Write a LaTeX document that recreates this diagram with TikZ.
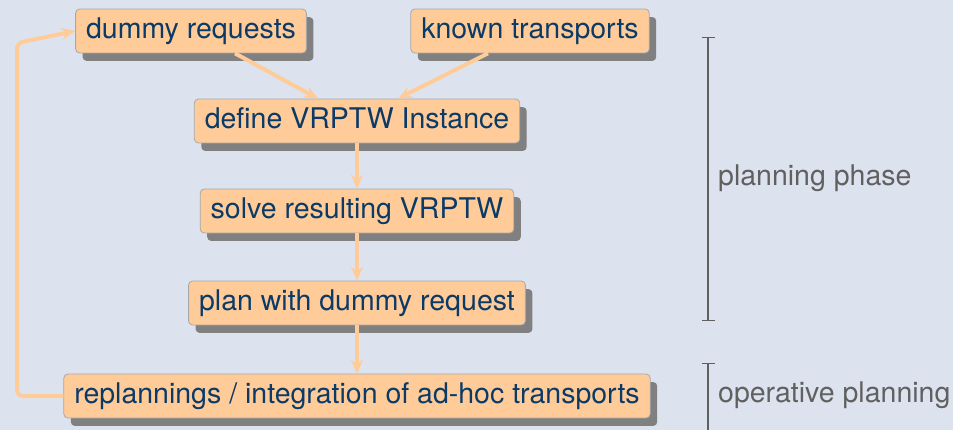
\documentclass[tikz,border=0pt]{standalone}
\usepackage{fontspec}
\setmainfont{TeX Gyre Heros}
\usetikzlibrary{arrows.meta,shadows}
\definecolor{bgblue}{HTML}{DCE3EE}
\definecolor{boxfill}{HTML}{FFCC99}
\definecolor{boxline}{HTML}{A8A8A8}
\definecolor{boxtext}{HTML}{0B3A66}
\definecolor{flow}{HTML}{FFCC99}
\definecolor{phase}{HTML}{606060}
\begin{document}
\begin{tikzpicture}[x=1pt,y=-1pt,
  stepbox/.style={draw=boxline, line width=0.8pt, fill=boxfill, rounded corners=4pt,
    text=boxtext, font=\fontsize{28.5}{30}\selectfont,
    text height=21pt, text depth=6.5pt, inner xsep=10.5pt, inner ysep=8.2pt,
    drop shadow={shadow xshift=7pt, shadow yshift=-8pt, fill=black!50, opacity=1}},
  flowarrow/.style={draw=flow, line width=4pt, -{Stealth[length=14pt,width=12pt,inset=5pt]}},
  phaselabel/.style={text=phase, font=\fontsize{28.5}{30}\selectfont, anchor=west, inner sep=0pt},
  phasebar/.style={draw=phase, line width=1.3pt}]
  \fill[bgblue] (0,0) rectangle (953,430);
  \useasboundingbox (0,0) rectangle (953,430);

  % process steps
  \node[stepbox] (dummy) at (191,31) {dummy requests};
  \node[stepbox] (known) at (530,31) {known transports};
  \node[stepbox] (define) at (357,121) {define VRPTW Instance};
  \node[stepbox] (solve) at (357,211) {solve resulting VRPTW};
  \node[stepbox] (plan) at (357,303) {plan with dummy request};
  \node[stepbox] (replan) at (357,396) {replannings / integration of ad-hoc transports};

  % flow between the steps
  \draw[flowarrow] (dummy.south -| 235,0) -- (define.north -| 318,0);
  \draw[flowarrow] (known.south -| 488,0) -- (define.north -| 398,0);
  \draw[flowarrow] (define) -- (solve);
  \draw[flowarrow] (solve) -- (plan);
  \draw[flowarrow] (plan) -- (replan);

  % feedback loop
  \coordinate (loopdown) at (17,396);
  \coordinate (loopup) at (17,43);
  \draw[flowarrow, rounded corners=6pt] (replan.west) -- (loopdown) -- (loopup) -- (dummy.west);

  % phase brackets
  \coordinate (ppTop) at (708,37);
  \coordinate (ppBot) at (708,321);
  \coordinate (opTop) at (708,363);
  \coordinate (opBot) at (708,440);
  \draw[phasebar, {Bar[width=13pt]}-{Bar[width=13pt]}] (ppTop) -- (ppBot);
  \draw[phasebar, {Bar[width=13pt]}-] (opTop) -- (opBot);
  \node[phaselabel] (pplabel) at (718,178) {planning phase};
  \node[phaselabel] (oplabel) at (718,395) {operative planning};
\end{tikzpicture}
\end{document}
